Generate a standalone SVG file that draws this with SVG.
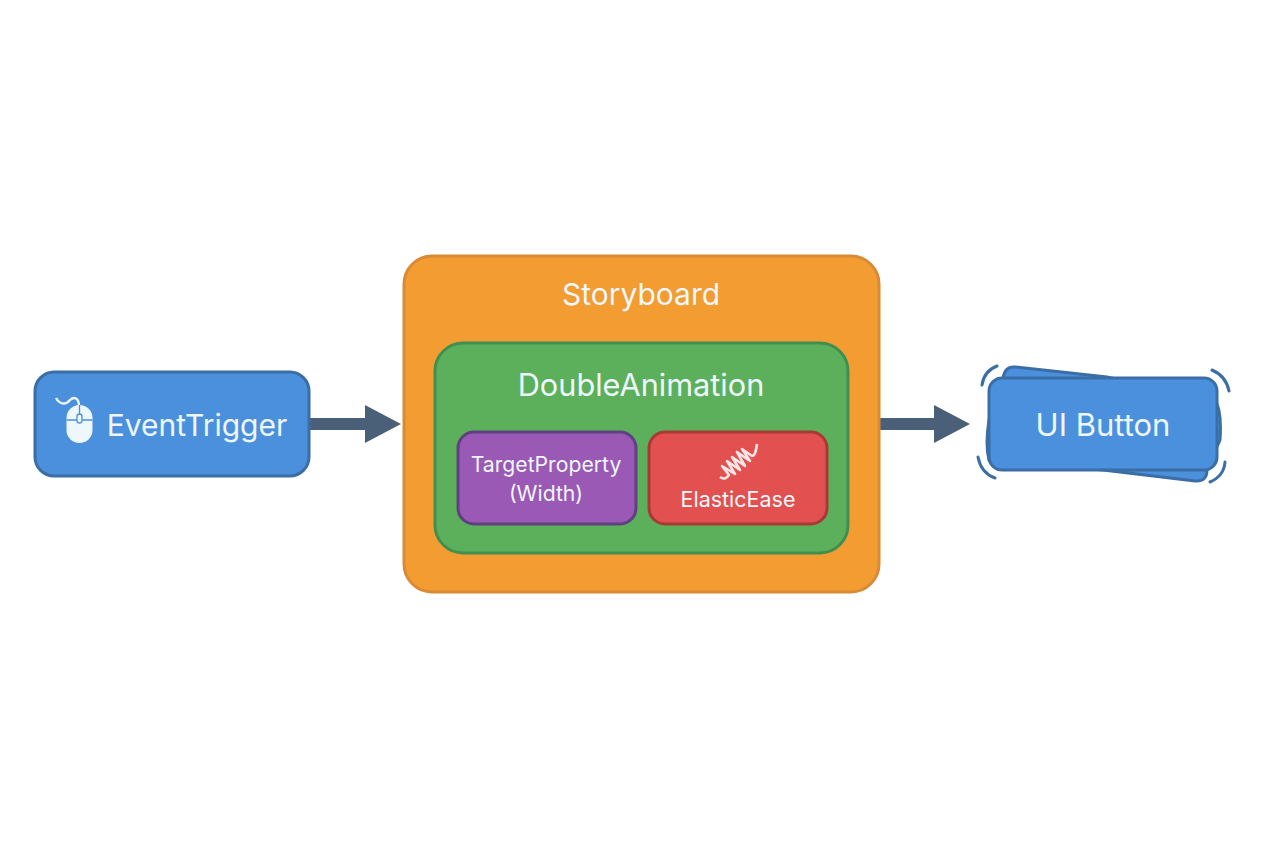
<svg xmlns="http://www.w3.org/2000/svg" width="1264" height="848" viewBox="0 0 1264 848">
<defs><style>
text{font-family:"Inter","Liberation Sans",sans-serif;fill:#eef7fb;text-anchor:middle}
.b{stroke-width:3}
.blue{fill:#4a90dc;stroke:#3a6ea5}
.wave{fill:none;stroke:#3a6ea5;stroke-width:3;stroke-linecap:round}
.conn{fill:#4a6078;stroke:none}
</style></defs>
<rect width="1264" height="848" fill="#ffffff"/>
<g id="connectors">
<path class="conn" d="M310 418H365V405L401 424L365 443V430H310Z"/>
<path class="conn" d="M880 418H934V405L970 424L934 443V430H880Z"/>
</g>
<g id="event-trigger">
<rect class="blue b" x="35" y="372" width="274" height="104" rx="19"/>
<path d="M56 398C60 405 66 405 70 400C74 396 79 398 79 406" fill="none" stroke="#eef7fb" stroke-width="2.400"/>
<rect x="66.500" y="405" width="26" height="38" rx="13" fill="#eef7fb"/>
<path d="M66.500 420H92.500M79.500 405V420" stroke="#4a90dc" stroke-width="1.300" fill="none"/>
<rect x="77" y="414" width="5" height="9" rx="2.500" fill="#eef7fb" stroke="#4a90dc" stroke-width="1.300"/>
<text x="197" y="436" font-size="30">EventTrigger</text>
</g>
<g id="storyboard">
<rect class="b" x="404" y="256" width="475" height="336" rx="28" fill="#f39c32" stroke="#d98a35"/>
<text x="641" y="305" font-size="30">Storyboard</text>
</g>
<g id="double-animation">
<rect class="b" x="435" y="343" width="413" height="210" rx="28" fill="#5cb05c" stroke="#3f8f50"/>
<text x="641" y="396" font-size="30.700">DoubleAnimation</text>
</g>
<g id="target-property">
<rect class="b" x="458" y="432" width="178" height="92" rx="16" fill="#9b59b6" stroke="#5f4080"/>
<text x="546" y="472" font-size="21.200">TargetProperty</text>
<text x="546" y="501" font-size="21.200">(Width)</text>
</g>
<g id="elastic-ease">
<rect class="b" x="649" y="432" width="178" height="92" rx="16" fill="#e25050" stroke="#a83a35"/>
<path d="M720 477C724 480 727 478 729 475L722 466L735 474L727 461L740 470L732 457L745 466L737 452L750 461L742 449L752 456C755 456 756 451 757 444" fill="none" stroke="#f8e6e6" stroke-width="2.600" stroke-linejoin="round"/>
<text x="738" y="507" font-size="21.500">ElasticEase</text>
</g>
<g id="ui-button">
<path class="blue b" d="M1015 367L1107 377L1215 400Q1222 410 1220 440L1207 470Q1207 482 1195 481L1103 470L989 460Q985 445 989 420Q1002 385 1003 378Q1005 366 1015 367Z"/>
<rect class="blue b" x="989" y="378" width="228" height="92" rx="13"/>
<path class="wave" d="M982 385Q984 371 997 366M1212 370Q1226 376 1229 391M978 457Q981 473 995 478M1225 462Q1224 476 1210 482"/>
<text x="1103" y="436" font-size="31">UI Button</text>
</g>
</svg>
